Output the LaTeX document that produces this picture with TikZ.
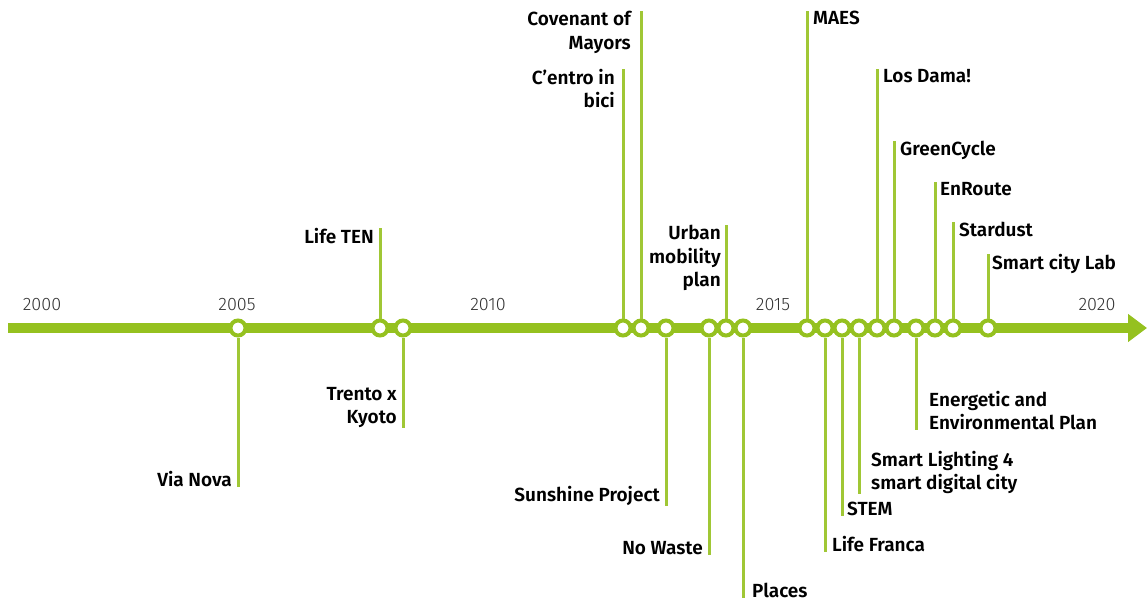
\documentclass[tikz,border=0pt]{standalone}
\usepackage{fontspec}
\setmainfont{Fira Sans}
\newfontfamily\evfont{Fira Sans SemiBold}
\newfontfamily\yrfont{Fira Sans Light}
\usetikzlibrary{arrows.meta}
\definecolor{leaf}{RGB}{149,193,31}
\tikzset{
    axis/.style={line width=10pt,leaf,-{Triangle[length=19pt,width=27pt]}},
    event/.style={circle,draw=leaf,fill=white,line width=4pt,minimum size=15pt,inner sep=0pt},
    tick/.style={leaf!90!white,line width=3pt},
    lblL/.style={anchor=north east,inner sep=0pt,align=right,font=\evfont\fontsize{19}{23.5}\selectfont},
    lblR/.style={anchor=north west,inner sep=0pt,align=left,font=\evfont\fontsize{19}{23.5}\selectfont},
    year/.style={inner sep=0pt,text=black!80,font=\yrfont\fontsize{18}{20}\selectfont}
}

\begin{document}
\begin{tikzpicture}[x=1pt,y=-1pt]
    \useasboundingbox (0,0) rectangle (1148,605);
    % main axis
    \coordinate (tstart) at (8,328);
    \coordinate (tend) at (1147,328);
    \draw[axis] (tstart)--(tend);
    % years
    \node[year] (y2000) at (42,305) {2000};
    \node[year] (y2005) at (237,305) {2005};
    \node[year] (y2010) at (488,305) {2010};
    \node[year] (y2015) at (773,305) {2015};
    \node[year] (y2020) at (1097,305) {2020};
    % events on the line
    \node[event] (vianova) at (238,328) {};
    \node[event] (lifeten) at (380,328) {};
    \node[event] (trento) at (403,328) {};
    \node[event] (centro) at (623,328) {};
    \node[event] (covenant) at (641,328) {};
    \node[event] (sunshine) at (666,328) {};
    \node[event] (nowaste) at (709,328) {};
    \node[event] (urban) at (726,328) {};
    \node[event] (places) at (743,328) {};
    \node[event] (maes) at (807,328) {};
    \node[event] (lifefranca) at (825,328) {};
    \node[event] (stemproj) at (842,328) {};
    \node[event] (lighting) at (859,328) {};
    \node[event] (losdama) at (877,328) {};
    \node[event] (greencycle) at (894,328) {};
    \node[event] (energetic) at (916,328) {};
    \node[event] (enroute) at (935,328) {};
    \node[event] (stardust) at (953,328) {};
    \node[event] (citylab) at (988,328) {};
    % labels above
    \node[lblL] (lifetenL) at (374,228) {Life TEN};
    \node[lblL] (covenantL) at (631,11) {Covenant of\\Mayors};
    \node[lblL] (centroL) at (615,69) {C’entro in\\bici};
    \node[lblL] (urbanL) at (721,225) {Urban\\mobility\\plan};
    \node[lblR] (maesL) at (813,11) {MAES};
    \node[lblR] (losdamaL) at (883,69) {Los Dama!};
    \node[lblR] (greencycleL) at (900,141) {GreenCycle};
    \node[lblR] (enrouteL) at (940,182) {EnRoute};
    \node[lblR] (stardustL) at (959,222) {Stardust};
    \node[lblR] (citylabL) at (992,254) {Smart city Lab};
    % labels below
    \node[lblL] (vianovaL) at (232,471) {Via Nova};
    \node[lblL] (trentoL) at (397,387) {Trento x\\Kyoto};
    \node[lblL] (sunshineL) at (660,486) {Sunshine Project};
    \node[lblL] (nowasteL) at (703,541) {No Waste};
    \node[lblR] (placesL) at (752,583) {Places};
    \node[lblR] (lifefrancaL) at (832,536) {Life Franca};
    \node[lblR] (stemprojL) at (847,502) {STEM};
    \node[lblR] (lightingL) at (871,451) {Smart Lighting 4\\smart digital city};
    \node[lblR] (energeticL) at (929,391) {Energetic and\\Environmental Plan};
    % stems
    \draw[tick] (lifeten)--(lifetenL.north east -| lifeten);
    \draw[tick] (covenant)--(covenantL.north east -| covenant);
    \draw[tick] (centro)--(centroL.north east -| centro);
    \draw[tick] (urban)--(urbanL.north east -| urban);
    \draw[tick] (maes)--(maesL.north west -| maes);
    \draw[tick] (losdama)--(losdamaL.north west -| losdama);
    \draw[tick] (greencycle)--(greencycleL.north west -| greencycle);
    \draw[tick] (enroute)--(enrouteL.north west -| enroute);
    \draw[tick] (stardust)--(stardustL.north west -| stardust);
    \draw[tick] (citylab)--(citylabL.north west -| citylab);
    \draw[tick] (vianova)--(vianovaL.south east -| vianova);
    \draw[tick] (trento)--(trentoL.south east -| trento);
    \draw[tick] (sunshine)--(sunshineL.south east -| sunshine);
    \draw[tick] (nowaste)--(nowasteL.south east -| nowaste);
    \draw[tick] (places)--(placesL.south west -| places);
    \draw[tick] (lifefranca)--(lifefrancaL.south west -| lifefranca);
    \draw[tick] (stemproj)--(stemprojL.south west -| stemproj);
    \draw[tick] (lighting)--(lightingL.south west -| lighting);
    \draw[tick] (energetic)--(energeticL.south west -| energetic);
\end{tikzpicture}
\end{document}
